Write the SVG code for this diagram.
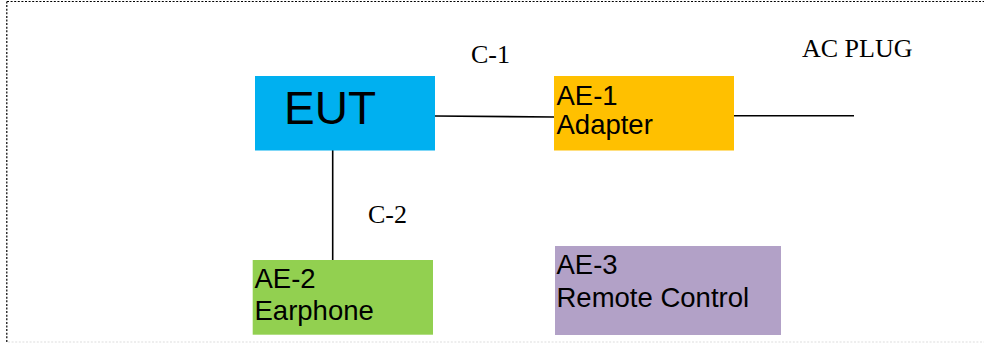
<svg xmlns="http://www.w3.org/2000/svg" width="984" height="343" viewBox="0 0 984 343">
<style>
.sans{font-family:"Liberation Sans",Arial,sans-serif;fill:#000}
.serif{font-family:"Liberation Serif","Times New Roman",serif;fill:#000;font-size:26px}
.lbl{font-size:27.5px}
.wire{stroke:#000;stroke-width:1.6;fill:none}
</style>
<rect width="984" height="343" fill="#fff"/>
<g id="frame">
<path d="M7 1.5 H984" stroke="#000" stroke-width="1.2" stroke-dasharray="2 1.6" fill="none"/>
<path d="M6.8 1.5 V343" stroke="#000" stroke-width="1.2" stroke-dasharray="2 1.6" fill="none"/>
<path d="M8 342 H984" stroke="#ddd" stroke-width="1" stroke-dasharray="2 1.6" fill="none"/>
</g>
<g id="connectors">
<line class="wire" x1="435" y1="116" x2="554" y2="117"/>
<line class="wire" x1="734" y1="115.8" x2="854" y2="115.8"/>
<line class="wire" x1="332.7" y1="150" x2="332.7" y2="260"/>
<text class="serif" x="471" y="63">C-1</text>
<text class="serif" x="368" y="223">C-2</text>
<text class="serif" x="802" y="57" font-size="27">AC PLUG</text>
</g>
<g id="eut">
<rect x="255" y="76" width="180" height="74.5" fill="#00B0F0"/>
<text class="sans" x="284" y="124" font-size="46">EUT</text>
</g>
<g id="ae1">
<rect x="554" y="76" width="180" height="74.5" fill="#FFC000"/>
<text class="sans lbl" x="556.5" y="105">AE-1</text>
<text class="sans lbl" x="556.5" y="134">Adapter</text>
</g>
<g id="ae2">
<rect x="252.7" y="260" width="180.3" height="74.7" fill="#92D050"/>
<text class="sans lbl" x="254.5" y="288">AE-2</text>
<text class="sans lbl" x="254.5" y="320">Earphone</text>
</g>
<g id="ae3">
<rect x="555" y="246" width="226" height="89" fill="#B2A1C7"/>
<text class="sans lbl" x="556.5" y="274">AE-3</text>
<text class="sans lbl" x="556.5" y="306.5">Remote Control</text>
</g>
</svg>
